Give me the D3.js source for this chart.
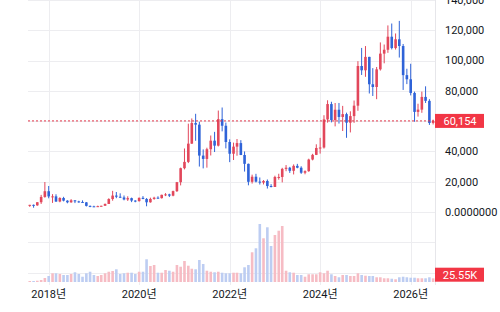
<!DOCTYPE html>
<html>
<head>
<meta charset="utf-8">
<script src="https://cdn.jsdelivr.net/npm/d3@7"></script>
<style>
  html, body { margin: 0; padding: 0; background: #fff; }
  svg { display: block; font-family: Roboto, "Noto Sans CJK KR", sans-serif; }
</style>
</head>
<body>
<div id="chart"></div>
<script>
// 월봉, 2017-08 ~ 2026-07 (가격 단위: 천)
const firstMonth = new Date(2017, 7, 1);

const openK = [
  4.26, 4.72, 4.38, 6.46, 9.95,
  13.72, 10.29, 10.33, 6.92, 9.24, 7.49, 6.39, 7.73, 7.01, 6.63, 6.37, 4.04,
  3.74, 3.46, 3.85, 4.11, 5.32, 8.55, 10.85, 10.09, 9.59, 8.29, 9.15, 7.54,
  7.20, 9.35, 8.60, 6.41, 8.62, 9.45, 9.14, 11.34, 11.65, 10.78, 13.79, 19.70,
  28.92, 33.09, 45.14, 58.74, 57.69, 37.25, 35.05, 41.46, 47.10, 43.82, 61.30, 56.95,
  46.22, 38.47, 43.16, 45.51, 37.63, 31.80, 19.94, 23.30, 20.05, 19.42, 20.49, 17.16,
  16.54, 23.13, 23.14, 28.47, 29.23, 27.21, 30.47, 29.23, 25.94, 26.96, 34.64, 37.72,
  42.28, 42.58, 61.13, 71.28, 60.67, 67.53, 62.77, 64.63, 58.97, 63.33, 70.22, 96.41,
  93.58, 102.43, 84.35, 82.55, 94.21, 104.59, 107.14, 115.76, 108.25, 114.05, 109.61, 90.39,
  87.65, 78.62, 66.10, 67.60, 76.00, 73.40, 58.80
];
const highK = [
  4.75, 4.94, 6.47, 11.30, 19.80,
  17.18, 11.79, 11.71, 9.76, 10.02, 7.78, 8.50, 7.76, 7.41, 7.68, 6.59, 4.31,
  4.14, 4.20, 4.14, 5.60, 9.07, 13.97, 13.20, 12.33, 10.90, 10.37, 9.50, 7.75,
  9.58, 10.50, 9.19, 9.47, 10.07, 10.38, 11.44, 12.47, 12.07, 14.10, 19.86, 29.30,
  41.95, 58.35, 61.78, 64.85, 59.60, 41.33, 42.45, 50.50, 52.92, 67.00, 69.00, 59.05,
  47.99, 45.82, 48.19, 47.44, 39.98, 31.98, 24.67, 25.21, 22.80, 21.09, 21.48, 18.39,
  23.96, 25.25, 29.18, 31.00, 29.82, 31.43, 31.80, 30.20, 27.48, 35.20, 38.43, 44.70,
  48.97, 63.91, 73.78, 72.80, 71.98, 72.00, 70.08, 65.60, 66.50, 73.62, 99.59, 108.35,
  109.59, 102.50, 95.00, 95.76, 111.98, 110.60, 123.22, 124.47, 117.90, 126.20, 110.96, 94.59,
  97.90, 79.50, 71.50, 79.50, 83.00, 74.50, 61.00
];
const lowK = [
  3.40, 2.82, 4.11, 5.33, 9.42,
  9.04, 6.00, 6.60, 6.43, 7.00, 5.75, 6.07, 5.88, 6.10, 6.20, 3.65, 3.16,
  3.35, 3.38, 3.67, 4.08, 5.33, 7.45, 9.11, 9.32, 7.71, 7.30, 6.52, 6.43,
  6.85, 8.45, 3.78, 6.15, 8.10, 8.83, 8.89, 10.50, 9.88, 10.37, 13.20, 17.57,
  28.13, 32.30, 44.95, 47.04, 30.00, 28.80, 29.28, 37.33, 39.60, 43.28, 53.26, 42.00,
  32.92, 34.32, 37.16, 37.58, 26.70, 17.62, 18.78, 19.52, 18.13, 18.19, 15.48, 16.26,
  16.50, 21.35, 19.55, 26.94, 25.81, 24.80, 28.86, 25.17, 24.90, 26.54, 34.10, 37.60,
  38.56, 41.88, 59.01, 59.19, 56.55, 58.40, 53.49, 49.00, 52.55, 58.87, 66.84, 90.50,
  89.26, 78.26, 76.61, 74.50, 93.40, 98.20, 105.10, 107.35, 107.27, 102.00, 80.60, 84.45,
  77.00, 59.60, 63.00, 65.50, 72.00, 57.50, 57.80
];
const closeK = [
  4.72, 4.38, 6.46, 9.95, 13.72,
  10.29, 10.33, 6.92, 9.24, 7.49, 6.39, 7.73, 7.01, 6.63, 6.37, 4.04, 3.74,
  3.46, 3.85, 4.11, 5.32, 8.55, 10.85, 10.09, 9.59, 8.29, 9.15, 7.54, 7.20,
  9.35, 8.60, 6.41, 8.62, 9.45, 9.14, 11.34, 11.65, 10.78, 13.79, 19.70, 28.92,
  33.09, 45.14, 58.74, 57.69, 37.25, 35.05, 41.46, 47.10, 43.82, 61.30, 56.95, 46.22,
  38.47, 43.16, 45.51, 37.63, 31.80, 19.94, 23.30, 20.05, 19.42, 20.49, 17.16, 16.54,
  23.13, 23.14, 28.47, 29.23, 27.21, 30.47, 29.23, 25.94, 26.96, 34.64, 37.72, 42.28,
  42.58, 61.13, 71.28, 60.67, 67.53, 62.77, 64.63, 58.97, 63.33, 70.22, 96.41, 93.58,
  102.43, 84.35, 82.55, 94.21, 104.59, 107.14, 115.76, 108.25, 114.05, 109.61, 90.39, 87.65,
  78.62, 66.10, 67.60, 76.00, 73.40, 58.80, 60.154
];
// 거래량 (K)
const volumeK = [
  7, 7, 9, 14, 28,
  42, 61, 61, 56, 49, 49, 56, 68, 56, 37, 61, 72,
  49, 42, 49, 61, 72, 77, 89, 56, 61, 65, 65, 56,
  72, 72, 159, 112, 119, 65, 65, 84, 79, 72, 119, 107,
  147, 114, 93, 89, 154, 126, 79, 72, 68, 72, 65, 61,
  61, 65, 65, 61, 103, 119, 208, 236, 406, 306, 383, 252,
  329, 359, 392, 79, 68, 65, 49, 49, 37, 54, 54, 54,
  68, 61, 79, 54, 42, 33, 49, 49, 42, 42, 61, 49,
  44, 42, 42, 33, 33, 26, 26, 23, 19, 33, 37, 33,
  30, 30, 26, 26, 26, 33, 25.55
];

const priceGrid = [-40, -20, 0, 20, 40, 60, 80, 100, 120, 140];
// 60,000 눈금은 현재가 라벨에 가려져 보이지 않음
const priceTicks = [0, 20, 40, 80, 100, 120, 140];
const priceTickLabels = ['0.0000000', '20,000', '40,000', '80,000', '100,000', '120,000', '140,000'];
const yearTicks = [2018, 2020, 2022, 2024, 2026];
const yearLabels = ['2018년', '2020년', '2022년', '2024년', '2026년'];

const width = 500, height = 312;
const plotLeft = 28, plotRight = 435, plotBottom = 285;
const upColor = '#e2475b', downColor = '#2f63d8';
const upVol = '#f6bcc4', downVol = '#bdcdf2';
const textColor = '#131722';

const months = d3.timeMonth.range(firstMonth, d3.timeMonth.offset(firstMonth, closeK.length));
const bars = months.map((d, i) => ({
  date: d, open: openK[i], high: highK[i], low: lowK[i], close: closeK[i], volume: volumeK[i]
}));

const x = d3.scaleTime()
    .domain([new Date(2018, 0, 1), new Date(2026, 0, 1)])
    .range([48.7, 410.7]);
const y = d3.scaleLinear().domain([0, 140]).range([212, 0]);
const yVol = d3.scaleLinear().domain([0, 406]).range([282, 224]);

const svg = d3.select('#chart').append('svg')
    .attr('width', width)
    .attr('height', height);

// 격자
svg.append('g').selectAll('line')
  .data(priceGrid)
  .join('line')
    .attr('x1', plotLeft).attr('x2', plotRight)
    .attr('y1', d => Math.round(y(d)) + 0.5)
    .attr('y2', d => Math.round(y(d)) + 0.5)
    .attr('stroke', '#ededf0');
svg.append('g').selectAll('line')
  .data(yearTicks)
  .join('line')
    .attr('x1', d => Math.round(x(new Date(d, 0, 1))) + 0.5)
    .attr('x2', d => Math.round(x(new Date(d, 0, 1))) + 0.5)
    .attr('y1', 0).attr('y2', plotBottom)
    .attr('stroke', '#ededf0');
svg.append('line')
    .attr('x1', plotRight + 0.5).attr('x2', plotRight + 0.5)
    .attr('y1', 0).attr('y2', plotBottom)
    .attr('stroke', '#e6e6ea');

// 거래량
const bw = 2.6;
svg.append('g').selectAll('rect')
  .data(bars)
  .join('rect')
    .attr('x', d => x(d.date) - bw / 2)
    .attr('y', d => yVol(d.volume))
    .attr('width', bw)
    .attr('height', d => yVol(0) - yVol(d.volume))
    .attr('fill', d => d.close >= d.open ? upVol : downVol);

// 캔들
const candle = svg.append('g').selectAll('g')
  .data(bars)
  .join('g')
    .attr('fill', d => d.close >= d.open ? upColor : downColor)
    .attr('stroke', d => d.close >= d.open ? upColor : downColor);
candle.append('line')
    .attr('x1', d => x(d.date))
    .attr('x2', d => x(d.date))
    .attr('y1', d => y(d.high))
    .attr('y2', d => y(d.low))
    .attr('stroke-width', 1);
candle.append('rect')
    .attr('stroke', 'none')
    .attr('x', d => x(d.date) - bw / 2)
    .attr('y', d => y(Math.max(d.open, d.close)))
    .attr('width', bw)
    .attr('height', d => Math.max(1, Math.abs(y(d.open) - y(d.close))));

// 현재가 라인
const last = bars[bars.length - 1];
svg.append('line')
    .attr('x1', plotLeft).attr('x2', plotRight)
    .attr('y1', y(last.close)).attr('y2', y(last.close))
    .attr('stroke', '#e2364a')
    .attr('stroke-dasharray', '2,2');

// 가격축 라벨
svg.append('g').selectAll('text')
  .data(priceTicks)
  .join('text')
    .attr('x', 445)
    .attr('y', d => y(d))
    .attr('dy', '0.35em')
    .attr('font-size', 11)
    .attr('fill', textColor)
    .text((d, i) => priceTickLabels[i]);

// 시간축 라벨
svg.append('g').selectAll('text')
  .data(yearTicks)
  .join('text')
    .attr('x', d => x(new Date(d, 0, 1)))
    .attr('y', 294)
    .attr('dy', '0.35em')
    .attr('text-anchor', 'middle')
    .attr('font-size', 11)
    .attr('fill', textColor)
    .text((d, i) => yearLabels[i]);

// 우측 값 라벨
function valueTag(cy, label) {
  svg.append('rect')
      .attr('x', plotRight).attr('y', cy - 7)
      .attr('width', 49).attr('height', 14)
      .attr('fill', '#f23645');
  svg.append('text')
      .attr('x', plotRight + 25).attr('y', cy)
      .attr('dy', '0.35em')
      .attr('text-anchor', 'middle')
      .attr('font-size', 11)
      .attr('fill', '#fff')
      .text(label);
}
valueTag(y(last.close), d3.format(',')(Math.round(last.close * 1000)));
valueTag(274.7, last.volume.toFixed(2) + 'K');
</script>
</body>
</html>
